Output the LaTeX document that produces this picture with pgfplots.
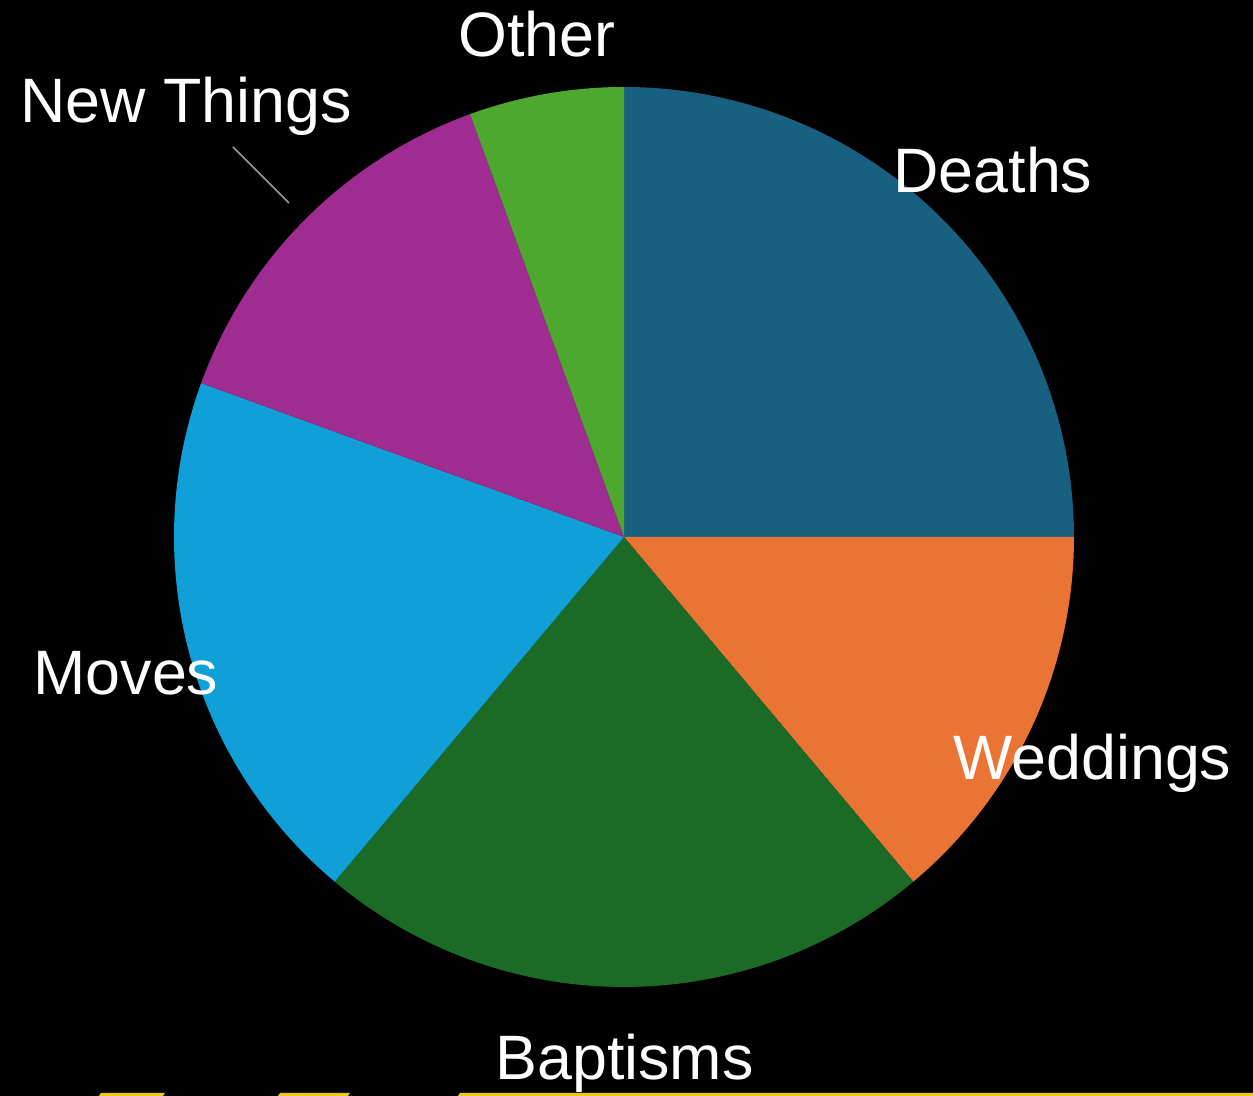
\documentclass[border=0pt]{standalone}
\usepackage{pgfplots}
\pgfplotsset{compat=1.18}
\usepackage{fontspec}
\setmainfont{Liberation Sans}
\definecolor{cDeaths}{RGB}{23,96,128}
\definecolor{cWeddings}{RGB}{233,116,52}
\definecolor{cBaptisms}{RGB}{27,106,37}
\definecolor{cMoves}{RGB}{16,159,214}
\definecolor{cNew}{RGB}{158,44,145}
\definecolor{cOther}{RGB}{78,167,46}
\definecolor{cYellow}{RGB}{240,200,20}
\tikzset{lbl/.style={font=\fontsize{25.1}{30}\selectfont, text=white, inner sep=0pt, anchor=base west}}
% Data (counts): Deaths 9, Weddings 5, Baptisms 8, Moves 7, New Things 5, Other 2  (total 36, 10 degrees each)
\begin{document}
\begin{tikzpicture}
\begin{axis}[
  x=0.4pt, y=0.4pt,
  xmin=0, xmax=1253, ymin=0, ymax=1096,
  hide axis, clip=false,
]
\fill[black] (axis cs:0,0) rectangle (axis cs:1253,1096);
% wedges: clockwise from 90 degrees
\addplot[draw=none, fill=cDeaths, domain=0:90, samples=91] ({624+450*cos(x)},{559+450*sin(x)}) -- (axis cs:624,559) -- cycle;
\addplot[draw=none, fill=cWeddings, domain=-50:0, samples=51] ({624+450*cos(x)},{559+450*sin(x)}) -- (axis cs:624,559) -- cycle;
\addplot[draw=none, fill=cBaptisms, domain=-130:-50, samples=81] ({624+450*cos(x)},{559+450*sin(x)}) -- (axis cs:624,559) -- cycle;
\addplot[draw=none, fill=cMoves, domain=-200:-130, samples=71] ({624+450*cos(x)},{559+450*sin(x)}) -- (axis cs:624,559) -- cycle;
\addplot[draw=none, fill=cNew, domain=-250:-200, samples=51] ({624+450*cos(x)},{559+450*sin(x)}) -- (axis cs:624,559) -- cycle;
\addplot[draw=none, fill=cOther, domain=-270:-250, samples=21] ({624+450*cos(x)},{559+450*sin(x)}) -- (axis cs:624,559) -- cycle;
% leader line
\addplot[gray!80, line width=0.6pt] coordinates {(233,949) (289,893)};
% yellow bits at bottom edge
\addplot[draw=none, fill=cYellow] coordinates {(99,0) (101,3) (165,3) (163,0)} -- cycle;
\addplot[draw=none, fill=cYellow] coordinates {(278,0) (280,3) (350,3) (348,0)} -- cycle;
\addplot[draw=none, fill=cYellow] coordinates {(458,0) (460,3) (1253,3) (1253,0)} -- cycle;
% labels
\node[lbl] at (axis cs:458,1039) {Other};
\node[lbl] at (axis cs:20,973) {New Things};
\node[lbl] at (axis cs:893,903) {Deaths};
\node[lbl] at (axis cs:953,316) {Weddings};
\node[lbl] at (axis cs:33,401) {Moves};
\node[lbl] at (axis cs:495,16) {Baptisms};
\end{axis}
\end{tikzpicture}
\end{document}
